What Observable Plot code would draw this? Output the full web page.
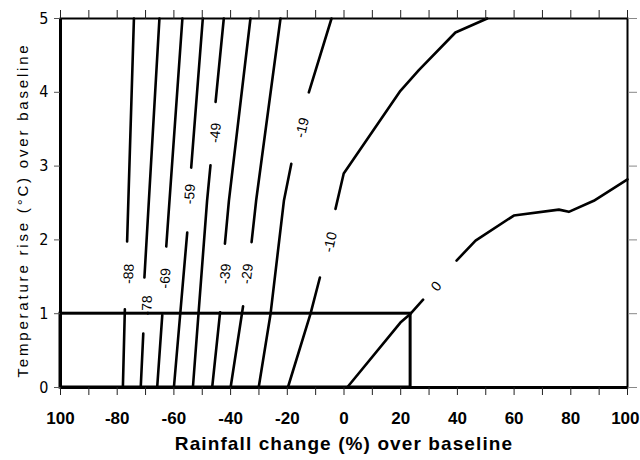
<!DOCTYPE html>
<html>
<head>
<meta charset="utf-8">
<script src="https://cdn.jsdelivr.net/npm/d3@7"></script>
<script src="https://cdn.jsdelivr.net/npm/@observablehq/plot@0.6"></script>
<style>
  html, body { margin: 0; padding: 0; background: #fff; }
</style>
</head>
<body>
<div id="chart"></div>
<script>
// ---- data ----
const levels = ["-88", "-78", "-69", "-59", "-49", "-39", "-29", "-19", "-10", "0"];

// contour polylines: [rainfall change %, temperature rise °C]; null = gap for label
const c88 = [[-78.0, 0], [-77.3, 1.06], null, [-76.5, 1.98], [-74.1, 5]];
const c78 = [[-71.7, 0], [-70.8, 0.73], null, [-70.4, 1.49], [-65.1, 5]];
const c69 = [[-65.9, 0], [-64.1, 0.98], null, [-62.7, 1.91], [-57.0, 5]];
const c59 = [[-60.0, 0], [-55.3, 2.10], null, [-53.9, 2.98], [-49.8, 5]];
const c49 = [[-53.3, 0], [-48.3, 2.53], [-47.1, 3.01], null, [-45.3, 3.87], [-42.4, 5]];
const c39 = [[-46.5, 0], [-43.7, 1.02], null, [-42.0, 1.95], [-40.6, 2.53], [-33.0, 5]];
const c29 = [[-40.0, 0], [-35.6, 1.10], null, [-32.6, 1.97], [-31.0, 2.53], [-22.4, 5]];
const c19 = [[-30.1, 0], [-25.9, 1.0], [-21.2, 2.53], [-18.6, 3.03], null, [-12.4, 4.0], [-4.4, 5]];
const c10 = [[-19.8, 0], [-11.8, 1.0], [-8.5, 1.49], null, [-3.0, 2.42], [-0.1, 2.90], [19.9, 4.02], [26.4, 4.30], [39.3, 4.81], [50.5, 5]];
const c0  = [[1.1, 0], [19.9, 0.88], [23.5, 1.0], [27.9, 1.19], null, [39.7, 1.72], [46.4, 1.99], [59.9, 2.33], [75.8, 2.41], [79.3, 2.38], [88.1, 2.53], [100, 2.82]];
const contours = [c88, c78, c69, c59, c49, c39, c29, c19, c10, c0];

// contour label positions
const labelRain = [-75.9, -69.4, -63.0, -54.4, -45.3, -41.8, -34.1, -14.7, -4.8, 32.6];
const labelTemp = [1.54, 1.11, 1.48, 2.62, 3.45, 1.54, 1.54, 3.52, 1.97, 1.37];

// highlighted box
const boxRain = [-100, 23.5];
const boxTemp = [0, 1];

// axes
const xTickValues = [-100, -80, -60, -40, -20, 0, 20, 40, 60, 80, 100];
const xTickLabels = ["100", "-80", "-60", "-40", "-20", "0", "20", "40", "60", "80", "100"];
const xMinorTicks = [-100, -90, -80, -70, -60, -50, -40, -30, -20, -10, 0, 10, 20, 30, 40, 50, 60, 70, 80, 90, 100];
const yTickValues = [0, 1, 2, 3, 4, 5];
const xTitle = "Rainfall change (%) over baseline";
const yTitle = "Temperature rise (°C) over baseline";

// ---- layout ----
const W = 640, H = 460, mL = 60, mR = 13, mT = 18, mB = 73;
const xs = Plot.scale({x: {domain: [-100, 100], range: [mL, W - mR]}});
const ys = Plot.scale({y: {domain: [0, 5], range: [H - mB, mT]}});

const lineRows = contours.flatMap((pts, i) =>
  pts.map(p => p ? {level: levels[i], x: p[0], y: p[1]} : {level: levels[i], x: NaN, y: NaN}));

// label rotation follows the contour direction across its gap
const angles = contours.map(pts => {
  const k = pts.indexOf(null);
  const a = pts[k - 1], b = pts[k + 1];
  const dx = xs.apply(b[0]) - xs.apply(a[0]);
  const dy = ys.apply(b[1]) - ys.apply(a[1]);
  return Math.atan2(dy, dx) * 180 / Math.PI;
});

const lastIdx = xTickValues.length - 1;
const tickIdx = xTickValues.map((d, i) => i);

const chart = Plot.plot({
  width: W, height: H,
  marginLeft: mL, marginRight: mR, marginTop: mT, marginBottom: mB,
  x: {domain: [-100, 100]},
  y: {domain: [0, 5]},
  style: {fontFamily: "'Liberation Sans', Arial, sans-serif", background: "white", color: "black"},
  marks: [
    Plot.line(lineRows, {x: "x", y: "y", z: "level", stroke: "black", strokeWidth: 2.6, strokeLinejoin: "round"}),
    Plot.text(levels, {
      x: (d, i) => labelRain[i], y: (d, i) => labelTemp[i], text: d => d,
      rotate: (d, i) => angles[i], fontSize: 14, fill: "black"
    }),
    Plot.rect([{x1: boxRain[0], x2: boxRain[1], y1: boxTemp[0], y2: boxTemp[1]}],
      {x1: "x1", x2: "x2", y1: "y1", y2: "y2", fill: "none", stroke: "black", strokeWidth: 3}),
    Plot.frame({stroke: "black", strokeWidth: 2}),
    Plot.ruleX([-100], {stroke: "black", strokeWidth: 3}),
    Plot.ruleY([0], {stroke: "black", strokeWidth: 3}),
    Plot.axisX(xMinorTicks, {anchor: "bottom", tickSize: 8, tickFormat: () => "", label: null, stroke: "#222"}),
    Plot.axisX(xMinorTicks, {anchor: "top", tickSize: 9, tickFormat: () => "", label: null, stroke: "#222"}),
    Plot.axisY(yTickValues, {anchor: "left", tickSize: 6, tickFormat: () => "", label: null, stroke: "#555"}),
    Plot.axisY(yTickValues, {anchor: "right", tickSize: 9, tickFormat: () => "", label: null, stroke: "#888"}),
    // x tick labels (all but the last, centred on the tick)
    Plot.text(tickIdx.slice(0, lastIdx), {
      x: i => xTickValues[i], frameAnchor: "bottom", dy: 31, text: i => xTickLabels[i],
      textAnchor: "middle", lineAnchor: "middle", fontWeight: "bold", fontSize: 17, fill: "black",
      className: "xtick"
    }),
    // last x tick label, kept inside the picture's right edge
    Plot.text(tickIdx.slice(lastIdx), {
      x: i => xTickValues[i], frameAnchor: "bottom", dx: 12, dy: 31, text: i => xTickLabels[i],
      textAnchor: "end", lineAnchor: "middle", fontWeight: "bold", fontSize: 17, fill: "black",
      className: "xtick"
    }),
    Plot.text(yTickValues, {
      y: d => d, frameAnchor: "left", dx: -12, text: d => String(d),
      textAnchor: "end", lineAnchor: "middle", fontSize: 16, fill: "black",
      fontFamily: "'Liberation Sans Narrow', 'DejaVu Sans Condensed', 'Liberation Sans', Arial, sans-serif"
    }),
    Plot.text([xTitle], {
      frameAnchor: "bottom", dy: 56, text: d => d,
      textAnchor: "middle", lineAnchor: "middle", fontWeight: "bold", fontSize: 19, fill: "black"
    }),
    Plot.text([yTitle], {
      frameAnchor: "left", dx: -37, dy: 7, text: d => d, rotate: -90,
      textAnchor: "middle", lineAnchor: "middle", fontSize: 15, fill: "black"
    })
  ]
});

// letter spacing as in the reference
chart.querySelectorAll("text").forEach(t => {
  if (t.textContent === yTitle) t.style.letterSpacing = "2.8px";
  if (t.textContent === xTitle) t.style.letterSpacing = "1.1px";
});

document.getElementById("chart").appendChild(chart);
</script>
</body>
</html>
